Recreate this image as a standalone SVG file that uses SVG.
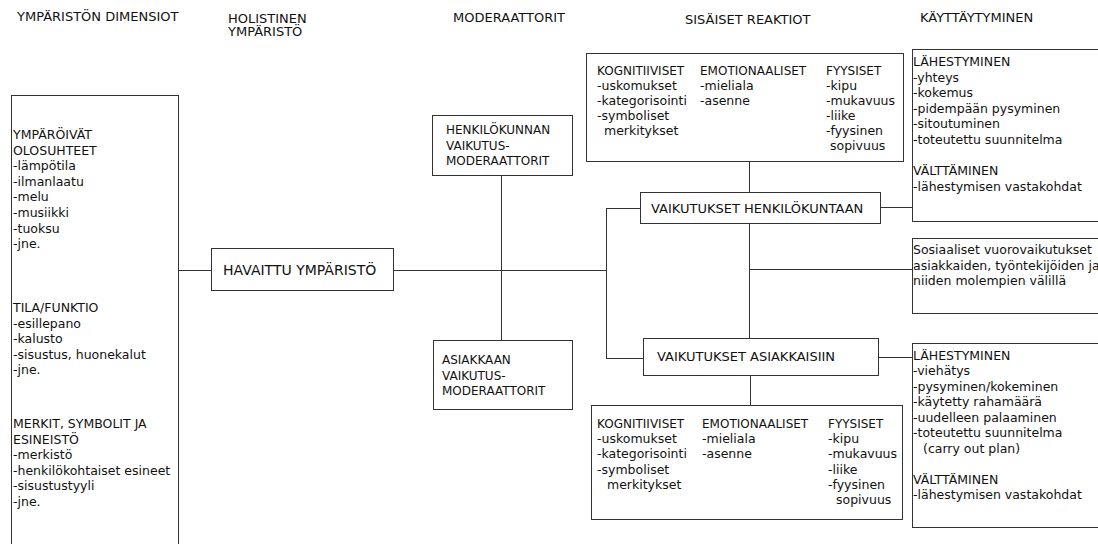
<svg xmlns="http://www.w3.org/2000/svg" width="1098" height="544" viewBox="0 0 1098 544">
<style>
text{font-family:"DejaVu Sans","Liberation Sans",sans-serif;fill:#111;}
.h{font-size:13px;}
.b{font-size:12.5px;}
.c{font-size:12px;}
.l{font-size:13px;}
.box{fill:#fff;stroke:#333;stroke-width:1;}
.con line{stroke:#333;stroke-width:1;}
</style>
<rect width="1098" height="544" fill="#fff"/>
<g id="headers" class="h">
<text x="17" y="21">YMPÄRISTÖN DIMENSIOT</text>
<text x="228" y="23">HOLISTINEN</text>
<text x="228" y="36">YMPÄRISTÖ</text>
<text x="453" y="22">MODERAATTORIT</text>
<text x="685" y="24">SISÄISET REAKTIOT</text>
<text x="920" y="22">KÄYTTÄYTYMINEN</text>
</g>
<g class="con" id="connectors">
<line x1="178" y1="270.5" x2="211" y2="270.5"/>
<line x1="393" y1="270.5" x2="606.5" y2="270.5"/>
<line x1="501.5" y1="175" x2="501.5" y2="340"/>
<line x1="606.5" y1="208.5" x2="606.5" y2="358.5"/>
<line x1="606" y1="208.5" x2="640" y2="208.5"/>
<line x1="606" y1="358.5" x2="643" y2="358.5"/>
<line x1="749.5" y1="161" x2="749.5" y2="192"/>
<line x1="749.5" y1="223" x2="749.5" y2="338"/>
<line x1="749.5" y1="269.5" x2="912" y2="269.5"/>
<line x1="880" y1="207.5" x2="912" y2="207.5"/>
<line x1="878" y1="357.5" x2="912" y2="357.5"/>
<line x1="750.5" y1="375" x2="750.5" y2="405"/>
</g>
<g id="dimensiot">
<rect class="box" x="11.5" y="95.5" width="167" height="460"/>
<g class="b">
<text x="13" y="139">YMPÄRÖIVÄT</text>
<text x="13" y="154.6">OLOSUHTEET</text>
<text x="13" y="170.2">-lämpötila</text>
<text x="13" y="185.8">-ilmanlaatu</text>
<text x="13" y="201.4">-melu</text>
<text x="13" y="217">-musiikki</text>
<text x="13" y="232.6">-tuoksu</text>
<text x="13" y="248.2">-jne.</text>
<text x="13" y="312">TILA/FUNKTIO</text>
<text x="13" y="327.6">-esillepano</text>
<text x="13" y="343.2">-kalusto</text>
<text x="13" y="358.8">-sisustus, huonekalut</text>
<text x="13" y="374.4">-jne.</text>
<text x="13" y="428">MERKIT, SYMBOLIT JA</text>
<text x="13" y="443.6">ESINEISTÖ</text>
<text x="13" y="459.2">-merkistö</text>
<text x="13" y="474.8">-henkilökohtaiset esineet</text>
<text x="13" y="490.4">-sisustustyyli</text>
<text x="13" y="506">-jne.</text>
</g>
</g>
<g id="havaittu">
<rect class="box" x="211.5" y="248.5" width="182" height="42"/>
<text x="223" y="275" style="font-size:14px">HAVAITTU YMPÄRISTÖ</text>
</g>
<g id="henkilokunnan-moderaattorit" class="c">
<rect class="box" x="432.5" y="115.5" width="140" height="60"/>
<text x="446" y="134">HENKILÖKUNNAN</text>
<text x="446" y="149.5">VAIKUTUS-</text>
<text x="446" y="165">MODERAATTORIT</text>
</g>
<g id="asiakkaan-moderaattorit" class="c">
<rect class="box" x="433.5" y="340.5" width="139" height="69"/>
<text x="442" y="364">ASIAKKAAN</text>
<text x="442" y="379.5">VAIKUTUS-</text>
<text x="442" y="395">MODERAATTORIT</text>
</g>
<g id="reaktiot-henkilokunta">
<rect class="box" x="586.5" y="53.5" width="317" height="108"/>
<g class="b">
<text x="597" y="74.5" class="c">KOGNITIIVISET</text>
<text x="597" y="89.5">-uskomukset</text>
<text x="597" y="104.5">-kategorisointi</text>
<text x="597" y="119.5">-symboliset</text>
<text x="604" y="134.5">merkitykset</text>
<text x="700" y="74.5" class="c">EMOTIONAALISET</text>
<text x="700" y="89.5">-mieliala</text>
<text x="700" y="104.5">-asenne</text>
<text x="826" y="74.5" class="c">FYYSISET</text>
<text x="826" y="89.5">-kipu</text>
<text x="826" y="104.5">-mukavuus</text>
<text x="826" y="119.5">-liike</text>
<text x="826" y="134.5">-fyysinen</text>
<text x="830" y="149.5">sopivuus</text>
</g>
</g>
<g id="vaikutukset-henkilokuntaan">
<rect class="box" x="640.5" y="192.5" width="240" height="31"/>
<text x="651" y="213" class="l">VAIKUTUKSET HENKILÖKUNTAAN</text>
</g>
<g id="vaikutukset-asiakkaisiin">
<rect class="box" x="643.5" y="338.5" width="235" height="37"/>
<text x="657" y="361" class="l">VAIKUTUKSET ASIAKKAISIIN</text>
</g>
<g id="reaktiot-asiakkaat">
<rect class="box" x="591.5" y="405.5" width="311" height="114"/>
<g class="b">
<text x="597" y="428" class="c">KOGNITIIVISET</text>
<text x="597" y="443.2">-uskomukset</text>
<text x="597" y="458.4">-kategorisointi</text>
<text x="597" y="473.6">-symboliset</text>
<text x="607" y="488.8">merkitykset</text>
<text x="702" y="428" class="c">EMOTIONAALISET</text>
<text x="702" y="443.2">-mieliala</text>
<text x="702" y="458.4">-asenne</text>
<text x="828" y="428" class="c">FYYSISET</text>
<text x="828" y="443.2">-kipu</text>
<text x="828" y="458.4">-mukavuus</text>
<text x="828" y="473.6">-liike</text>
<text x="828" y="488.8">-fyysinen</text>
<text x="836" y="504">sopivuus</text>
</g>
</g>
<g id="kayttaytyminen-henkilokunta" class="b">
<rect class="box" x="912.5" y="49.5" width="200" height="172"/>
<text x="913" y="66">LÄHESTYMINEN</text>
<text x="913" y="81.6">-yhteys</text>
<text x="913" y="97.2">-kokemus</text>
<text x="913" y="112.8">-pidempään pysyminen</text>
<text x="913" y="128.4">-sitoutuminen</text>
<text x="913" y="144">-toteutettu suunnitelma</text>
<text x="913" y="175.2">VÄLTTÄMINEN</text>
<text x="913" y="190.8">-lähestymisen vastakohdat</text>
</g>
<g id="sosiaaliset" class="b">
<rect class="box" x="912.5" y="238.5" width="200" height="75"/>
<text x="913" y="254">Sosiaaliset vuorovaikutukset</text>
<text x="913" y="269.5">asiakkaiden, työntekijöiden ja</text>
<text x="913" y="285">niiden molempien välillä</text>
</g>
<g id="kayttaytyminen-asiakkaat" class="b">
<rect class="box" x="912.5" y="343.5" width="200" height="184"/>
<text x="913" y="359.5">LÄHESTYMINEN</text>
<text x="913" y="375">-viehätys</text>
<text x="913" y="390.5">-pysyminen/kokeminen</text>
<text x="913" y="406">-käytetty rahamäärä</text>
<text x="913" y="421.5">-uudelleen palaaminen</text>
<text x="913" y="437">-toteutettu suunnitelma</text>
<text x="923" y="452.5">(carry out plan)</text>
<text x="913" y="483.5">VÄLTTÄMINEN</text>
<text x="913" y="499">-lähestymisen vastakohdat</text>
</g>
</svg>
